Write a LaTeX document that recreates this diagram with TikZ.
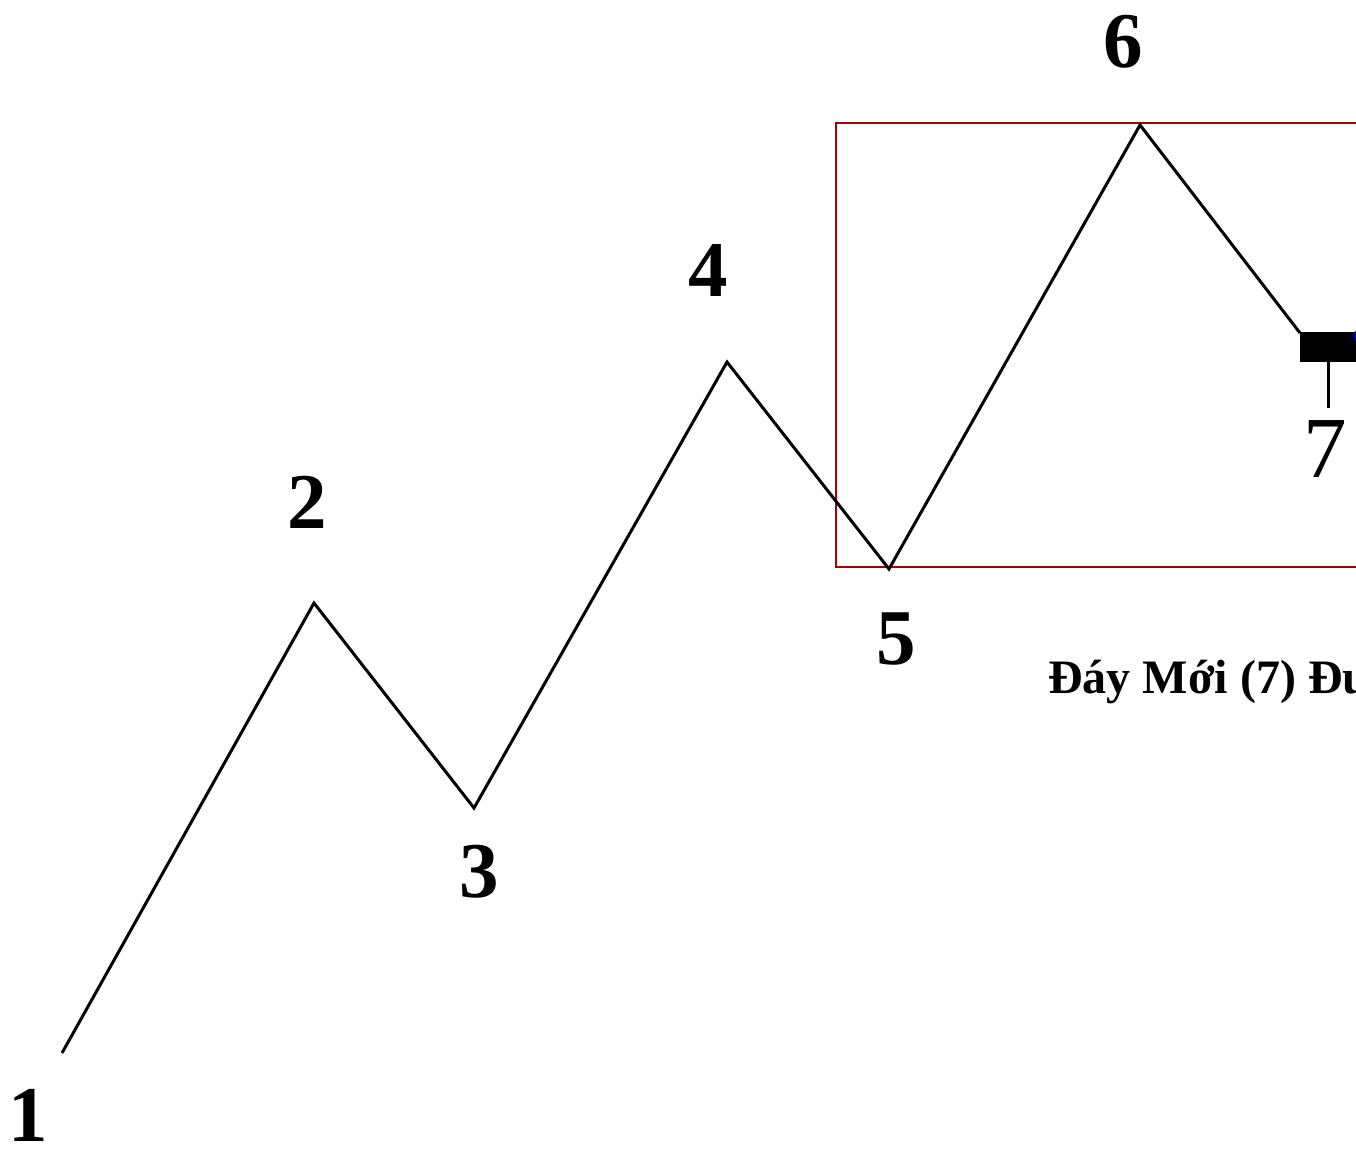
\documentclass[tikz,border=0pt]{standalone}
\usepackage{fontspec}
\setmainfont{Liberation Serif}
\usetikzlibrary{positioning}

\begin{document}
\begin{tikzpicture}[x=1pt,y=-1pt,font=\fontsize{79}{79}\selectfont\bfseries,line join=miter]
\clip (0,0) rectangle (1356,1149);
\fill[white] (0,0) rectangle (1356,1149);
% box round the last swing
\draw[red!65!black,line width=2pt] (836,123) rectangle (1400,567);
\foreach \n/\x/\y in {1/62/1053,2/314/603,3/474/808,4/727/362,5/889/569,6/1140/125,7/1300/333}{\coordinate (p\n) at (\x,\y);}
\draw[line width=3pt] (p1)--(p2)--(p3)--(p4)--(p5)--(p6)--(p7);
\node[fill=black,inner sep=0pt,minimum width=80pt,minimum height=30pt,anchor=north west] (bar) at (1300,332) {};
\fill[blue] (1364,336) circle (10);
\coordinate (stem) at (1328,408);
\draw[line width=3pt] (bar.south west -| stem)--(stem);
\foreach \n/\x/\y in {1/28/1141,2/307/528,3/479/897,4/708/296,5/896/664,6/1123/67}{\node[anchor=base] (l\n) at (\x,\y){\n};}
\node[anchor=base,font=\fontsize{87}{87}\selectfont] (l7) at (1325,477){7};
\node[anchor=base west,inner sep=0pt,font=\fontsize{48}{48}\selectfont\bfseries] (note) at (1048,693){Đáy Mới (7) Đu};
\end{tikzpicture}
\end{document}
